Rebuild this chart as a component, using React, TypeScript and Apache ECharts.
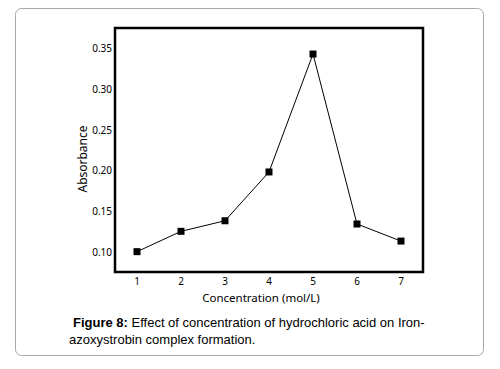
import React, { useEffect, useRef } from "react";
import * as echarts from "echarts";

const categories = ["1", "2", "3", "4", "5", "6", "7"];
const absorbance = [0.1, 0.125, 0.138, 0.198, 0.343, 0.134, 0.113];
const yTickLabels = ["0.10", "0.15", "0.20", "0.25", "0.30", "0.35"];
const xName = "Concentration (mol/L)";
const yName = "Absorbance";
const captionBold = "Figure 8:";
const captionLine1 = " Effect of concentration of hydrochloric acid on Iron-";
const captionLine2 = "azoxystrobin complex formation.";

export default function App() {
  const ref = useRef<HTMLDivElement>(null);
  useEffect(() => {
    const chart = echarts.init(ref.current!, null, { renderer: "svg" });
    const axisFont = "Noto Sans";
    chart.setOption({
      animation: false,
      backgroundColor: "#fff",
      grid: {
        left: 115,
        top: 28,
        right: 77,
        bottom: 97,
        show: true,
        borderColor: "#000",
        borderWidth: 2.5,
        backgroundColor: "transparent",
      },
      xAxis: {
        type: "category",
        data: categories,
        boundaryGap: true,
        axisLine: { show: false },
        axisTick: { show: false },
        axisLabel: { color: "#000", fontFamily: axisFont, fontSize: 10, margin: 4 },
        splitLine: { show: false },
      },
      yAxis: {
        type: "value",
        min: 0.075,
        max: 0.375,
        interval: 0.025,
        axisLine: { show: false },
        axisTick: { show: false },
        splitLine: { show: false },
        axisLabel: {
          color: "#000",
          fontFamily: axisFont,
          fontSize: 10,
          margin: 3,
          formatter: (v: number) => {
            const s = v.toFixed(2);
            return yTickLabels.indexOf(s) >= 0 && Math.abs(v * 20 - Math.round(v * 20)) < 1e-6 ? s : "";
          },
        },
      },
      series: [
        {
          type: "line",
          data: absorbance,
          symbol: "rect",
          symbolSize: 7,
          itemStyle: { color: "#000" },
          lineStyle: { color: "#000", width: 1 },
        },
      ],
      graphic: [
        {
          type: "rect",
          shape: { x: 15.5, y: 8.5, width: 468, height: 347, r: 6 },
          style: { fill: "none", stroke: "#a8a8a8", lineWidth: 1 },
          silent: true,
        },
        {
          type: "text",
          x: 261,
          y: 297,
          style: {
            text: xName,
            fontFamily: axisFont,
            fontSize: 11.5,
            fill: "#000",
            align: "center",
            verticalAlign: "middle",
          },
        },
        {
          type: "text",
          x: 82.5,
          y: 159,
          rotation: Math.PI / 2,
          style: {
            text: yName,
            fontFamily: axisFont,
            fontSize: 12,
            fill: "#000",
            align: "center",
            verticalAlign: "middle",
          },
        },
        {
          type: "text",
          x: 73,
          y: 322,
          style: {
            text: "{b|" + captionBold + "}{n|" + captionLine1 + "}",
            verticalAlign: "middle",
            rich: {
              b: { fontFamily: "Liberation Sans", fontWeight: "bold", fontSize: 13, fill: "#000" },
              n: { fontFamily: "Liberation Sans", fontSize: 13, fill: "#000" },
            },
          },
        },
        {
          type: "text",
          x: 69,
          y: 339,
          style: {
            text: captionLine2,
            fontFamily: "Liberation Sans",
            fontSize: 13,
            fill: "#000",
            verticalAlign: "middle",
          },
        },
      ],
    });
    return () => chart.dispose();
  }, []);
  return (
    <div
      ref={ref}
      style={{ position: "fixed", left: 0, top: 0, width: 500, height: 369 }}
    />
  );
}
